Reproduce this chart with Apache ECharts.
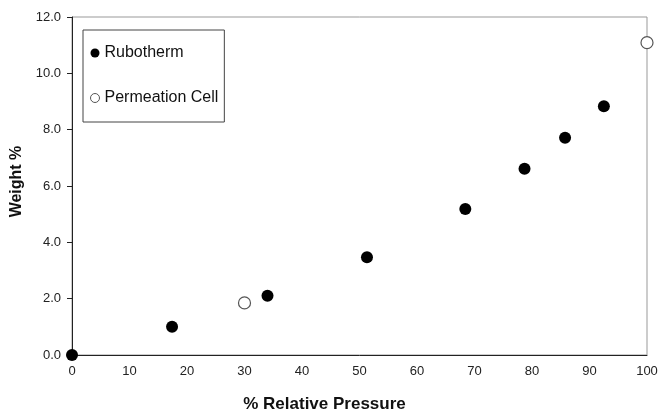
<!DOCTYPE html>
<html><head><meta charset="utf-8">
<script src="https://cdn.jsdelivr.net/npm/echarts@6/dist/echarts.min.js"></script>
<style>html,body{margin:0;padding:0;background:#fff}#c{width:659px;height:413px}</style>
</head><body><div id="c"></div>
<script>
const rubothermX = [0, 17.4, 34.0, 51.3, 68.4, 78.7, 85.75, 92.5];
const rubothermY = [0, 1.0, 2.1, 3.47, 5.18, 6.61, 7.71, 8.83];
const permeationX = [30.0, 100];
const permeationY = [1.85, 11.09];
const seriesNames = ['Rubotherm', 'Permeation Cell'];

const zip = (xs, ys) => xs.map((x, i) => [x, ys[i]]);
const chart = echarts.init(document.getElementById('c'));
const font = 'Arial, "Liberation Sans", sans-serif';
chart.setOption({
  animation: false,
  grid: {left: 72, right: 12, top: 17, bottom: 58, show: true, borderColor: '#999', borderWidth: 1,
         containLabel: false, outerBoundsMode: 'none'},
  legend: {
    left: 83, top: 30, orient: 'vertical',
    padding: [15, 6, 16, 7],
    itemGap: 29, itemWidth: 9, itemHeight: 9,
    borderColor: '#444', borderWidth: 1,
    textStyle: {fontFamily: font, fontSize: 16, lineHeight: 16, color: '#111'},
    data: [
      {name: seriesNames[0], icon: 'circle', itemStyle: {color: '#000', opacity: 1}},
      {name: seriesNames[1], icon: 'circle', itemStyle: {color: '#fff', borderColor: '#555', borderWidth: 1, opacity: 1}}
    ]
  },
  xAxis: {
    type: 'value', min: 0, max: 100, interval: 10,
    name: '% Relative Pressure', nameLocation: 'middle', nameGap: 41,
    nameTextStyle: {fontFamily: font, fontSize: 17, fontWeight: 'bold', color: '#111', padding: [0, 70, 0, 0]},
    axisLine: {show: true, onZero: false, lineStyle: {color: '#222', width: 1}},
    axisTick: {show: false},
    splitLine: {show: false},
    axisLabel: {fontFamily: font, fontSize: 13, color: '#222', margin: 10}
  },
  yAxis: {
    type: 'value', min: 0, max: 12, interval: 2,
    name: 'Weight %', nameLocation: 'middle', nameGap: 38,
    nameTextStyle: {fontFamily: font, fontSize: 16, fontWeight: 'bold', color: '#111', padding: [0, 0, 0, 9]},
    axisLine: {show: true, onZero: false, lineStyle: {color: '#222', width: 1}},
    axisTick: {show: true, inside: false, length: 5, lineStyle: {color: '#222'}},
    splitLine: {show: false},
    axisLabel: {fontFamily: font, fontSize: 13, color: '#222', margin: 11, formatter: v => v.toFixed(1)}
  },
  series: [
    {name: seriesNames[0], type: 'scatter', symbol: 'circle', symbolSize: 12,
     itemStyle: {color: '#000', opacity: 1}, data: zip(rubothermX, rubothermY), z: 3},
    {name: seriesNames[1], type: 'scatter', symbol: 'circle', symbolSize: 12,
     itemStyle: {color: '#fff', borderColor: '#555', borderWidth: 1.2, opacity: 1}, data: zip(permeationX, permeationY), z: 3}
  ]
});
</script></body></html>
